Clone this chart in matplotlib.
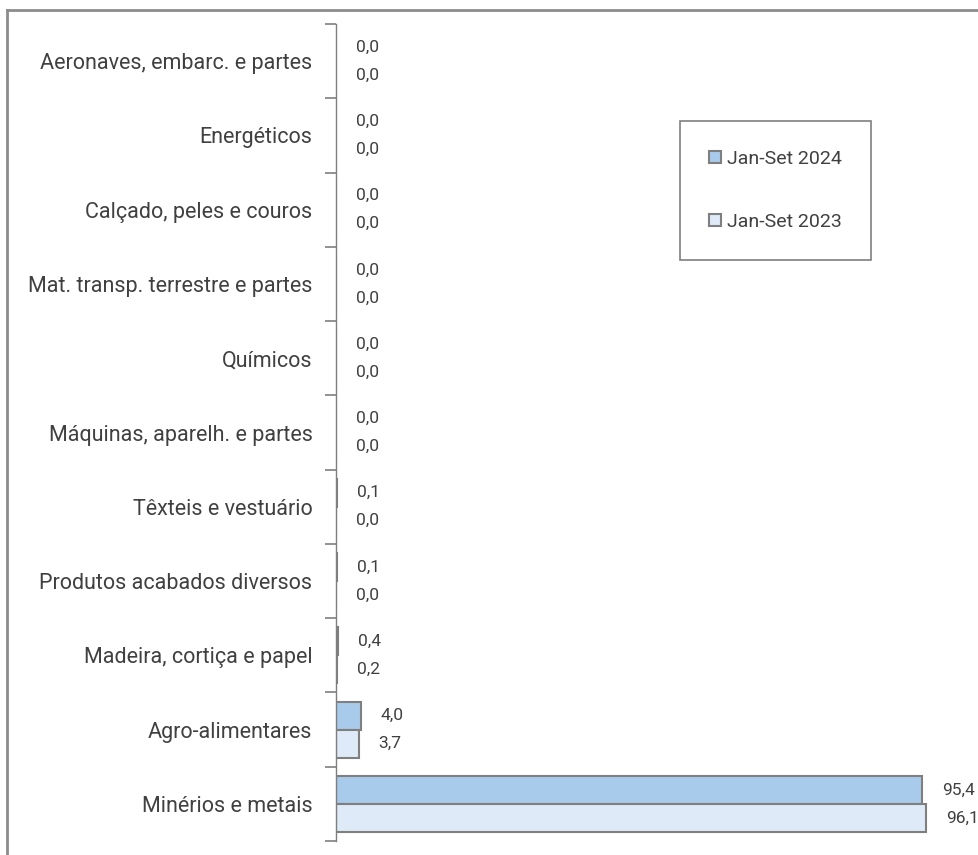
import matplotlib.pyplot as plt
from matplotlib.lines import Line2D
from matplotlib.patches import Patch
import numpy as np

plt.rcParams["font.family"] = ["Roboto", "DejaVu Sans"]

# categories listed bottom to top
categories = [
    "Minérios e metais",
    "Agro-alimentares",
    "Madeira, cortiça e papel",
    "Produtos acabados diversos",
    "Têxteis e vestuário",
    "Máquinas, aparelh. e partes",
    "Químicos",
    "Mat. transp. terrestre e partes",
    "Calçado, peles e couros",
    "Energéticos",
    "Aeronaves, embarc. e partes",
]
jan_set_2024 = [95.4, 4.0, 0.4, 0.1, 0.1, 0.02, 0.01, 0.02, 0.02, 0.0, 0.0]
jan_set_2023 = [96.1, 3.7, 0.2, 0.02, 0.02, 0.02, 0.01, 0.02, 0.02, 0.0, 0.0]
series_names = ["Jan-Set 2024", "Jan-Set 2023"]

color_2024 = "#a9cbeb"
color_2023 = "#deeaf7"
edge = "#7f7f7f"
text_color = "#404040"

fig = plt.figure(figsize=(9.79, 8.55), dpi=100)
ax = fig.add_axes([336 / 979, 1 - 841 / 855, 614 / 979, 817 / 855])

y = np.arange(len(categories))
h = 0.377
for vals, off, col in [(jan_set_2024, h / 2, color_2024), (jan_set_2023, -h / 2, color_2023)]:
    lws = [1.5 if v > 0 else 0 for v in vals]
    ax.barh(y + off, vals, height=h, color=col, edgecolor=edge, linewidth=lws)
    for yi, v in zip(y, vals):
        ax.annotate(f"{v:.1f}".replace(".", ","), (v, yi + off), xytext=(20, 0),
                    textcoords="offset pixels",
                    va="center", ha="left", fontsize=12.5, color=text_color)

ax.set_xlim(0, 100)
ax.set_ylim(-0.5, len(categories) - 0.5)
ax.set_xticks([])
ax.set_yticks(y)
ax.set_yticklabels(categories, fontsize=15.5, color=text_color)
ax.set_yticks(np.arange(-0.5, len(categories)), minor=True)
ax.tick_params(axis="y", which="major", length=0, pad=17)
ax.tick_params(axis="y", which="minor", length=8, width=1.2, color=edge)
for s in ["top", "right", "bottom"]:
    ax.spines[s].set_visible(False)
ax.spines["left"].set_color(edge)
ax.spines["left"].set_linewidth(1.0)

handles = [Patch(facecolor=color_2024, edgecolor=edge, linewidth=1.5),
           Patch(facecolor=color_2023, edgecolor=edge, linewidth=1.5)]
leg = fig.legend(handles, series_names, loc="upper left",
                 bbox_to_anchor=(680 / 979, 1 - 121 / 855), bbox_transform=fig.transFigure,
                 borderaxespad=0, fancybox=False, edgecolor=edge, framealpha=1,
                 fontsize=14, handlelength=0.6, handleheight=0.6, handletextpad=0.3,
                 labelspacing=2.3, borderpad=1.5)
leg.get_frame().set_linewidth(1.2)
for t in leg.get_texts():
    t.set_color(text_color)

# outer frame (cropped chart border)
fig.add_artist(Line2D([7.5 / 979, 1], [1 - 10.5 / 855, 1 - 10.5 / 855], color="#8c8c8c", lw=2))
fig.add_artist(Line2D([7.5 / 979, 7.5 / 979], [0, 1 - 10.5 / 855], color="#8c8c8c", lw=2))

fig.savefig("out.png", dpi=100)
